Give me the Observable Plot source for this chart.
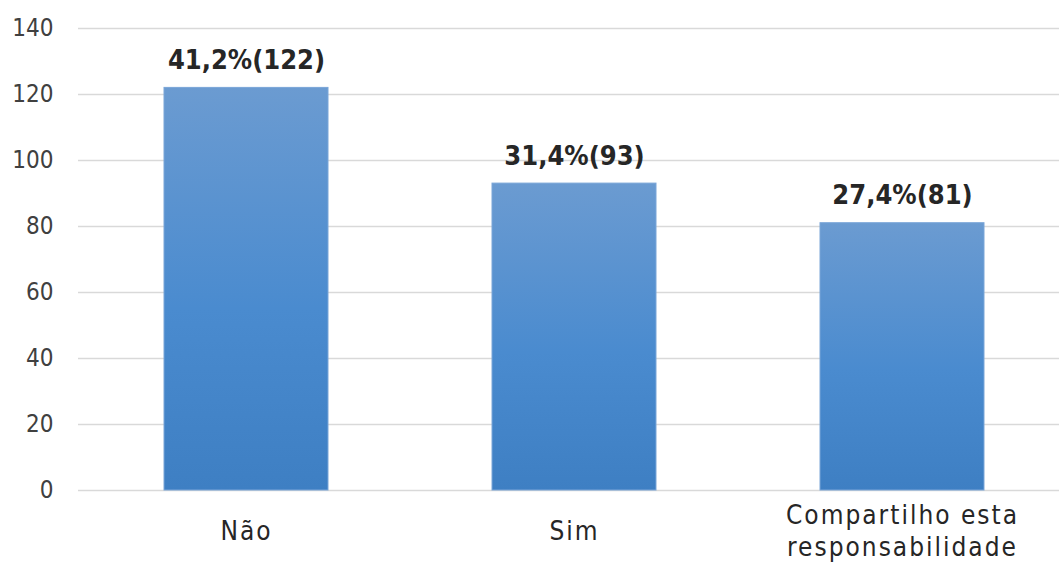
<!DOCTYPE html>
<html>
<head>
<meta charset="utf-8">
<script src="https://cdn.jsdelivr.net/npm/d3@7"></script>
<script src="https://cdn.jsdelivr.net/npm/@observablehq/plot@0.6"></script>
<style>
  html, body { margin: 0; padding: 0; background: #ffffff; }
  #chart svg { display: block; }
</style>
</head>
<body>
<div id="chart"></div>
<script>
// Answers and their counts
const categories = ["Não", "Sim", "Compartilho esta\nresponsabilidade"];
const counts = [122, 93, 81];
const percents = ["41,2%", "31,4%", "27,4%"];
const yTicks = [0, 20, 40, 60, 80, 100, 120, 140];

const rows = categories.map((c, i) => ({
  category: c,
  count: counts[i],
  label: `${percents[i]}(${counts[i]})`
}));

const narrow = "'Liberation Sans Narrow', 'Arial Narrow', 'DejaVu Sans Condensed', sans-serif";

const chart = Plot.plot({
  width: 1059,
  height: 580,
  marginLeft: 78,
  marginRight: 0,
  marginTop: 28,
  marginBottom: 90,
  style: { fontFamily: narrow, background: "#ffffff", overflow: "visible" },
  x: { domain: categories, range: [81, 1066], paddingInner: 0.5, paddingOuter: 0.25, label: null },
  y: { domain: [0, 140], label: null },
  marks: [
    Plot.gridY(yTicks, { stroke: "#d9d9d9", strokeOpacity: 1, strokeWidth: 1.5 }),
    Plot.barY(rows, {
      x: "category",
      y: "count",
      fill: "url(#barGradient)",
      stroke: "#7aa6d8",
      strokeWidth: 1
    }),
    Plot.text(rows, {
      x: "category",
      y: "count",
      text: "label",
      dy: -19,
      lineAnchor: "bottom",
      fontSize: 27,
      fontWeight: "bold",
      fill: "#262626"
    }),
    Plot.axisY({
      ticks: yTicks,
      tickSize: 0,
      tickPadding: 25,
      fontSize: 24,
      color: "#404040"
    }),
    Plot.axisX({
      tickSize: 0,
      tickPadding: 39,
      lineAnchor: "middle",
      fontSize: 26,
      lineHeight: 1.25,
      color: "#262626"
    })
  ]
});

// Category labels are set with a little extra letter spacing
d3.select(chart).selectAll("g[aria-label='x-axis tick label'] text")
  .style("letter-spacing", "2px");

// Vertical gradient used by the bars
const defs = d3.select(chart).insert("defs", ":first-child");
const grad = defs.append("linearGradient")
  .attr("id", "barGradient")
  .attr("x1", 0).attr("y1", 0).attr("x2", 0).attr("y2", 1);
grad.append("stop").attr("offset", "0%").attr("stop-color", "#6b9bd1");
grad.append("stop").attr("offset", "55%").attr("stop-color", "#4a8bcf");
grad.append("stop").attr("offset", "100%").attr("stop-color", "#3e7fc3");

document.getElementById("chart").appendChild(chart);
</script>
</body>
</html>
